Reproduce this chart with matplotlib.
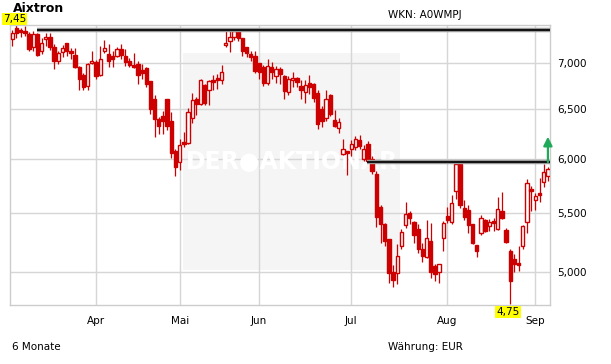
import numpy as np
import matplotlib
matplotlib.use("Agg")
import matplotlib.pyplot as plt
from matplotlib.ticker import FuncFormatter, NullLocator, FixedLocator
from matplotlib.patches import Rectangle

# daily candles, EUR
opens = [7.283, 7.408, 7.382, 7.370, 7.333, 7.189, 7.340, 7.144, 7.283, 7.306,
         7.181, 7.023, 7.125, 7.238, 7.144, 7.091, 6.957, 6.866, 6.751, 7.000,
         7.019, 6.866, 7.144, 7.102, 7.087, 7.087, 7.162, 7.079, 7.030, 6.986,
         6.993, 6.920, 6.949, 6.805, 6.612, 6.401, 6.428, 6.612, 6.377, 6.078,
         5.972, 6.163, 6.153, 6.413, 6.612, 6.557, 6.757, 6.703, 6.819, 6.841,
         6.812, 7.215, 7.257, 7.306, 7.389, 7.295, 7.181, 7.106, 7.079, 7.000,
         6.964, 6.783, 6.957, 6.855, 6.938, 6.855, 6.685, 6.812, 6.841, 6.747,
         6.685, 6.783, 6.776, 6.678, 6.504, 6.409, 6.648, 6.391, 6.306, 6.051,
         6.078, 6.102, 6.119, 6.187, 6.000, 6.146, 6.003, 5.855, 5.557, 5.403,
         5.273, 5.005, 4.992, 5.217, 5.395, 5.500, 5.423, 5.358, 5.189, 5.127,
         5.255, 5.048, 5.005, 5.281, 5.477, 5.420, 5.700, 5.948, 5.547, 5.528,
         5.403, 5.222, 5.324, 5.443, 5.387, 5.429, 5.358, 5.514, 5.350, 5.175,
         5.104, 5.076, 5.217, 5.423, 5.715, 5.616, 5.678, 5.778, 5.839]
highs = [7.389, 7.446, 7.408, 7.435, 7.363, 7.378, 7.348, 7.287, 7.352, 7.352,
         7.227, 7.144, 7.212, 7.238, 7.174, 7.174, 6.975, 6.891, 7.000, 7.136,
         7.038, 7.193, 7.265, 7.219, 7.136, 7.189, 7.219, 7.162, 7.060, 7.113,
         7.023, 6.993, 6.964, 6.805, 6.648, 6.425, 6.480, 6.612, 6.469, 6.102,
         6.197, 6.265, 6.513, 6.673, 6.630, 6.830, 6.776, 6.819, 6.866, 6.884,
         6.986, 7.378, 7.370, 7.408, 7.416, 7.295, 7.189, 7.144, 7.136, 7.000,
         6.986, 7.045, 7.011, 6.975, 6.957, 6.866, 6.855, 6.902, 6.848, 6.819,
         6.812, 6.866, 6.783, 6.703, 6.538, 6.710, 6.660, 6.493, 6.408, 6.197,
         6.078, 6.187, 6.231, 6.238, 6.139, 6.180, 6.027, 5.886, 5.570, 5.409,
         5.273, 5.056, 5.234, 5.358, 5.600, 5.514, 5.429, 5.403, 5.245, 5.443,
         5.414, 5.068, 5.068, 5.429, 5.557, 5.661, 5.985, 5.954, 5.614, 5.570,
         5.403, 5.222, 5.480, 5.449, 5.449, 5.457, 5.647, 5.689, 5.367, 5.189,
         5.146, 5.217, 5.398, 5.808, 5.746, 5.678, 5.818, 5.948, 5.923]
lows = [7.200, 7.295, 7.302, 7.314, 7.136, 7.144, 7.083, 7.106, 7.200, 7.155,
        6.938, 6.993, 7.068, 7.087, 7.049, 6.949, 6.703, 6.711, 6.703, 6.993,
        6.830, 6.855, 7.113, 6.964, 6.964, 7.068, 7.049, 6.975, 6.964, 6.949,
        6.776, 6.830, 6.740, 6.452, 6.214, 6.248, 6.248, 6.289, 6.010, 5.839,
        5.895, 6.119, 6.146, 6.357, 6.446, 6.546, 6.550, 6.550, 6.703, 6.721,
        6.776, 7.189, 7.125, 7.265, 7.257, 7.079, 7.068, 7.030, 6.891, 6.830,
        6.747, 6.757, 6.830, 6.783, 6.768, 6.612, 6.648, 6.740, 6.733, 6.612,
        6.565, 6.667, 6.580, 6.300, 6.317, 6.379, 6.435, 6.317, 6.255, 6.044,
        5.849, 6.027, 6.085, 6.095, 5.985, 5.978, 5.855, 5.375, 5.245, 5.217,
        4.916, 4.884, 4.908, 5.189, 5.369, 5.403, 5.245, 5.157, 5.087, 5.113,
        4.954, 4.929, 4.916, 5.174, 5.414, 5.403, 5.628, 5.547, 5.443, 5.324,
        5.231, 5.124, 5.307, 5.338, 5.344, 5.344, 5.352, 5.449, 5.239, 4.750,
        5.000, 5.011, 5.189, 5.324, 5.522, 5.530, 5.600, 5.737, 5.793]
closes = [7.352, 7.352, 7.363, 7.352, 7.166, 7.340, 7.094, 7.238, 7.306, 7.181,
          7.023, 7.113, 7.174, 7.144, 7.121, 6.964, 6.823, 6.740, 6.993, 7.030,
          6.855, 7.045, 7.174, 7.023, 7.049, 7.159, 7.098, 7.011, 6.986, 6.957,
          6.866, 6.895, 6.776, 6.504, 6.401, 6.333, 6.384, 6.333, 6.061, 5.923,
          6.136, 6.146, 6.469, 6.601, 6.557, 6.819, 6.572, 6.805, 6.797, 6.812,
          6.902, 7.238, 7.306, 7.378, 7.295, 7.136, 7.113, 7.068, 6.913, 6.902,
          6.783, 6.975, 6.902, 6.931, 6.884, 6.696, 6.830, 6.841, 6.794, 6.703,
          6.765, 6.740, 6.623, 6.344, 6.379, 6.612, 6.452, 6.326, 6.374, 6.095,
          6.061, 6.146, 6.197, 6.129, 6.095, 5.978, 5.886, 5.463, 5.403, 5.259,
          4.992, 4.941, 5.133, 5.335, 5.491, 5.453, 5.311, 5.189, 5.133, 5.281,
          5.005, 4.984, 5.068, 5.409, 5.437, 5.591, 5.954, 5.568, 5.463, 5.395,
          5.239, 5.172, 5.457, 5.344, 5.423, 5.409, 5.533, 5.457, 5.250, 4.930,
          5.068, 5.056, 5.384, 5.777, 5.700, 5.650, 5.665, 5.880, 5.901]

month_labels = ["Apr", "Mai", "Jun", "Jul", "Aug", "Sep"]
month_starts = [20, 40, 59, 81, 104, 125]  # trading-day index of first day
y_ticks = [5.0, 5.5, 6.0, 6.5, 7.0]

resistance_top = 7.39
resistance_top_from = 6
resistance_low = 5.97
resistance_low_from = 85
arrow_target = 6.22

RED = "#cc0000"
GRID = "#d6d6d6"

o = np.array(opens)
h = np.array(highs)
l = np.array(lows)
c = np.array(closes)
x = np.arange(len(o))
up = c >= o

fig = plt.figure(figsize=(6.11, 3.64), dpi=100)
ax = fig.add_axes([10 / 611, 59 / 364, 540 / 611, 280 / 364])
ax.set_yscale("log")
ax.set_xlim(-0.55, len(o) - 0.5)
ax.set_ylim(4.743, 7.446)

# watermark
wm = Rectangle((0.32, 0.125), 0.402, 0.775, transform=ax.transAxes,
               facecolor="#f5f5f5", edgecolor="none", zorder=0.5)
ax.add_patch(wm)
t = ax.text(0.522, 0.515, "DER\u25CFAKTIONÄR", transform=ax.transAxes, color="white",
            fontsize=17, fontweight="bold", ha="center", va="center", zorder=0.6)
t.set_clip_path(wm)

ax.set_axisbelow(True)
ax.grid(True, color=GRID, lw=1.0)
for s in ax.spines.values():
    s.set_color("#cccccc")
    s.set_linewidth(1.0)

ax.vlines(x, l, h, color=RED, lw=0.9, zorder=2)
body_low = np.minimum(o, c)
body_h = np.maximum(np.abs(c - o), 0.004)
ax.bar(x, body_h, bottom=body_low, width=0.8,
       color=np.where(up, "white", RED), edgecolor=RED, linewidth=1.0, zorder=3)

# resistance lines
for yv, x0 in [(resistance_top, resistance_top_from), (resistance_low, resistance_low_from)]:
    ax.hlines(yv, x0 - 0.2, len(o) - 0.5, color="#9a9a9a", lw=3.2, zorder=4)
    ax.hlines(yv, x0 - 0.2, len(o) - 0.5, color="#111111", lw=1.4, zorder=4.1)

ax.annotate("", xy=(x[-1], arrow_target), xytext=(x[-1], resistance_low),
            arrowprops=dict(arrowstyle="-|>", color="#1faa5a", lw=1.6,
                            mutation_scale=13, shrinkA=0, shrinkB=0), zorder=5)

ax.yaxis.tick_right()
ax.yaxis.set_major_locator(FixedLocator(y_ticks))
ax.yaxis.set_minor_locator(NullLocator())
ax.yaxis.set_major_formatter(FuncFormatter(lambda v, p: f"{v:.3f}".replace(".", ",")))
ax.set_xticks(month_starts)
ax.set_xticklabels(month_labels)
ax.tick_params(axis="both", length=0, labelsize=7.5, colors="black")
ax.tick_params(axis="y", pad=5)
ax.tick_params(axis="x", pad=8)

fig.text(13 / 611, 1 - 9 / 364, "Aixtron", fontsize=9, fontweight="bold", va="center")

# max / min labels
imax = int(np.argmax(h))
imin = int(np.argmin(l))
box = dict(boxstyle="square,pad=0.1", facecolor="#ffff00", edgecolor="none")
ax.annotate(f"{h[imax]:.2f}".replace(".", ","), xy=(imax - 0.5, 1.0),
            xycoords=("data", "axes fraction"), xytext=(0, 1.0), textcoords="offset points",
            ha="center", va="bottom", fontsize=7.5, bbox=box, annotation_clip=False)
ax.annotate(f"{l[imin]:.2f}".replace(".", ","), xy=(imin - 0.5, 0.0),
            xycoords=("data", "axes fraction"), xytext=(0, -1.5), textcoords="offset points",
            ha="center", va="top", fontsize=7.5, bbox=box, annotation_clip=False)

fig.text(388 / 611, 1 - 15 / 364, "WKN: A0WMPJ", fontsize=7.5, va="center")
fig.text(12 / 611, 1 - 347 / 364, "6 Monate", fontsize=7.5, va="center")
fig.text(388 / 611, 1 - 347 / 364, "Währung: EUR", fontsize=7.5, va="center")

fig.savefig("out.png", dpi=100)
